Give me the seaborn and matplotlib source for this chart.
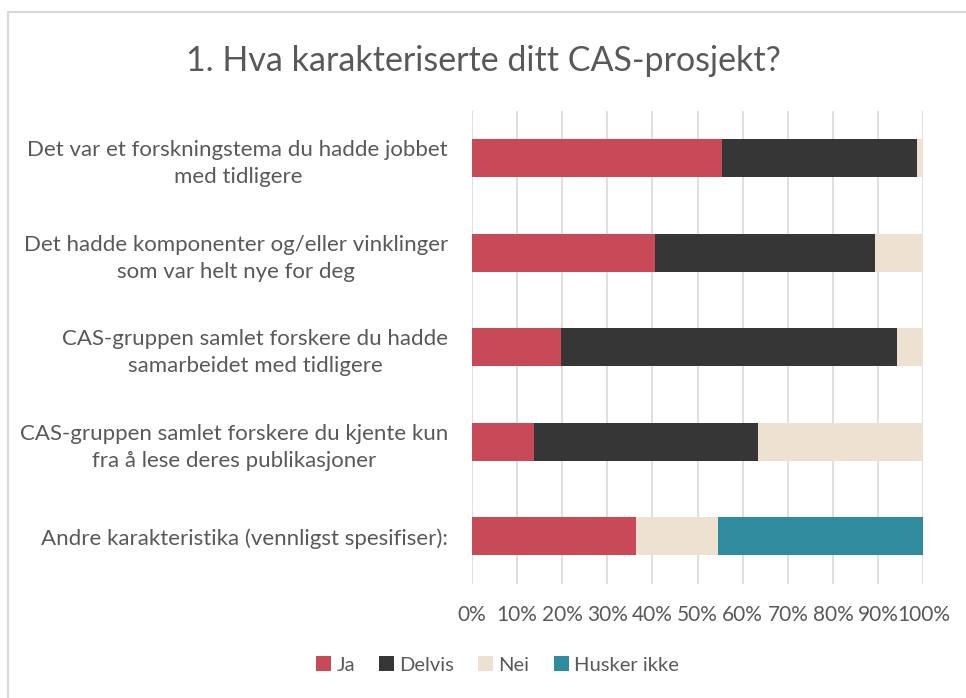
import numpy as np
import pandas as pd
import seaborn as sns
import matplotlib.pyplot as plt
from matplotlib.patches import Patch, Rectangle

categories = [
    "Det var et forskningstema du hadde jobbet\nmed tidligere",
    "Det hadde komponenter og/eller vinklinger\nsom var helt nye for deg",
    "CAS-gruppen samlet forskere du hadde\nsamarbeidet med tidligere",
    "CAS-gruppen samlet forskere du kjente kun\nfra å lese deres publikasjoner",
    "Andre karakteristika (vennligst spesifiser):",
]
series = ["Ja", "Delvis", "Nei", "Husker ikke"]
ja = [55.4, 40.5, 19.8, 13.8, 36.4]
delvis = [43.1, 48.8, 74.4, 49.7, 0.0]
nei = [1.5, 10.7, 5.8, 36.5, 18.2]
husker = [0.0, 0.0, 0.0, 0.0, 45.4]
colors = ["#C84A59", "#363636", "#EDE1D1", "#2E8C9E"]
xticks = list(range(0, 101, 10))

sns.set_theme(style="white")
plt.rcParams['font.family'] = ['Lato', 'DejaVu Sans']
grey = "#595959"

df = pd.DataFrame({"cat": categories, "Ja": ja, "Delvis": delvis,
                   "Nei": nei, "Husker ikke": husker})
cum = df[series].cumsum(axis=1)

fig = plt.figure(figsize=(9.66, 6.98), dpi=100)
ax = fig.add_axes([0.4883, 0.1638, 0.4675, 0.6775])

# stacked bars: draw cumulative totals from the last series back to the first
for s, c in zip(series[::-1], colors[::-1]):
    sns.barplot(x=cum[s], y=df["cat"], color=c, orient="h", width=0.4,
                linewidth=0, saturation=1, ax=ax, zorder=3)

ax.set_xlim(0, 100)
ax.set_xticks(xticks)
ax.set_xticklabels([f"{t}%" for t in xticks])
ax.xaxis.grid(True, color="#D9D9D9", linewidth=1.2, zorder=0)
ax.set_axisbelow(True)
for sp in ax.spines.values():
    sp.set_visible(False)
ax.set_xlabel("")
ax.set_ylabel("")
ax.tick_params(axis="x", length=0, pad=15, labelsize=15, labelcolor=grey)
ax.tick_params(axis="y", length=0, pad=17, labelsize=16, labelcolor=grey)
for lab in ax.get_yticklabels():
    lab.set_multialignment("center")
    lab.set_linespacing(1.45)

fig.text(0.5, 0.913, "1. Hva karakteriserte ditt CAS-prosjekt?", ha="center",
         va="center", fontsize=24.5, color=grey)

handles = [Patch(facecolor=c, edgecolor="none") for c in colors]
fig.legend(handles, series, loc="center", bbox_to_anchor=(0.515, 0.047), ncol=4,
           frameon=False, fontsize=14.5, handlelength=0.75, handleheight=0.75,
           handletextpad=0.25, columnspacing=1.2, labelcolor=grey)

fig.patches.append(Rectangle((8 / 966, -0.01), 1.0, 1 - 12 / 698 + 0.01,
                             transform=fig.transFigure, fill=False,
                             edgecolor="#D9D9D9", linewidth=1.5))

fig.savefig("out.png", dpi=100)
